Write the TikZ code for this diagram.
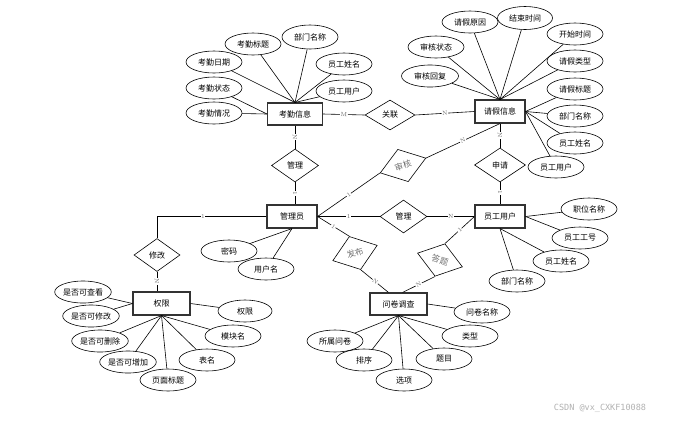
\documentclass[tikz,border=0pt]{standalone}
\usepackage{fontspec}
\newfontfamily\cjk{Noto Sans CJK SC}
\usetikzlibrary{shapes.geometric}
\begin{document}
\begin{tikzpicture}[x=1pt,y=-1pt,
  every node/.style={font=\cjk\fontsize{8}{9}\selectfont, inner sep=0pt},
  ent/.style={rectangle, draw=black!80, line width=1.1pt, minimum width=50pt, minimum height=23pt},
  attr/.style={ellipse, draw=black, line width=0.6pt, minimum width=56pt, minimum height=22pt},
  rel/.style={diamond, draw=black, line width=0.6pt, minimum width=47pt, minimum height=33pt},
  rrel/.style={rel, font=\cjk\fontsize{8.5}{9}\selectfont, text=black!55},
  conn/.style={draw=black, line width=0.6pt},
  lbl/.style={font=\fontsize{6}{6}\selectfont, text=black!60, fill=white, inner sep=0.6pt, sloped}
]
\useasboundingbox (0,0) rectangle (674,421);
\fill[white] (0,0) rectangle (674,421);

% ---------- 考勤信息 ----------
\node[ent, minimum width=55pt, minimum height=22pt] (kq) at (295,114) {考勤信息};
\node[attr] (kq1) at (253,44) {考勤标题};
\node[attr, minimum height=24pt] (kq2) at (310,37) {部门名称};
\node[attr] (kq3) at (214,62) {考勤日期};
\node[attr] (kq4) at (344,64) {员工姓名};
\node[attr] (kq5) at (214,88) {考勤状态};
\node[attr] (kq6) at (344,91) {员工用户};
\node[attr] (kq7) at (214,113) {考勤情况};
\foreach \a in {kq1,kq2,kq3,kq4,kq6} \draw[conn] (kq.north) -- (\a);
\foreach \a in {kq5,kq7} \draw[conn] (kq.west) -- (\a);

% ---------- 关联 ----------
\node[rel, minimum width=50pt, minimum height=30pt] (gl1) at (390,115) {关联};

% ---------- 请假信息 ----------
\node[ent] (qj) at (500,111.5) {请假信息};
\node[attr] (qj1) at (470,22) {请假原因};
\node[attr, minimum width=55pt, minimum height=23pt] (qj2) at (525,18) {结束时间};
\node[attr] (qj3) at (575,34) {开始时间};
\node[attr] (qj4) at (436,47) {审核状态};
\node[attr] (qj5) at (575,61) {请假类型};
\node[attr, minimum width=57pt] (qj6) at (430,76) {审核回复};
\node[attr] (qj7) at (575,89) {请假标题};
\node[attr] (qj8) at (575,116) {部门名称};
\node[attr] (qj9) at (575,143) {员工姓名};
\node[attr] (qj10) at (556,167) {员工用户};
\foreach \a in {qj1,qj2,qj3,qj4,qj5,qj6} \draw[conn] (qj.north) -- (\a);
\foreach \a in {qj7,qj8,qj9,qj10} \draw[conn] (qj.east) -- (\a);

\draw[conn] (kq.east) -- node[lbl, pos=0.5]{M} (gl1.west);
\draw[conn] (gl1.east) -- node[lbl, pos=0.5]{N} (qj.west);

% ---------- 申请 / 员工用户 ----------
\node[rel, minimum width=51pt, minimum height=34pt] (sq) at (500,165) {申请};
\node[ent] (ygy) at (500,216.5) {员工用户};
\node[attr] (yg1) at (589,209) {职位名称};
\node[attr] (yg2) at (580,238) {员工工号};
\node[attr] (yg3) at (561,261) {员工姓名};
\node[attr] (yg4) at (517,281) {部门名称};
\foreach \a in {yg1,yg2} \draw[conn] (ygy.east) -- (\a);
\foreach \a in {yg3,yg4} \draw[conn] (ygy.south) -- (\a);
\draw[conn] (qj.south) -- node[lbl, pos=0.5]{N} (sq.north);
\draw[conn] (sq.south) -- node[lbl, pos=0.45]{1} (ygy.north);

% ---------- 管理员 ----------
\node[ent] (gly) at (292,216.5) {管理员};
\node[rel] (gl2) at (295,165.5) {管理};
\node[rel] (gl3) at (403.5,216.5) {管理};
\node[attr] (gy1) at (229,251) {密码};
\node[attr] (gy2) at (266,269) {用户名};
\foreach \a in {gy1,gy2} \draw[conn] (gly.south) -- (\a);
\draw[conn] (kq.south) -- node[lbl, pos=0.5]{N} (gl2.north);
\draw[conn] (gl2.south) -- node[lbl, pos=0.5]{1} (gl2.south |- gly.north);
\draw[conn] (gly.east) -- node[lbl, pos=0.5]{1} (gl3.west);
\draw[conn] (gl3.east) -- node[lbl, pos=0.5]{N} (ygy.west);

% ---------- 审核 ----------
\node[rrel, minimum width=48pt, minimum height=34pt, rotate=18] (sh) at (403,165.5) {审核};
\draw[conn] (gly.east) -- node[lbl, pos=0.5]{1} (sh.west);
\draw[conn] (sh.east) -- node[lbl, pos=0.5]{N} (qj.south);

% ---------- 修改 / 权限 ----------
\node[rel, minimum width=46pt] (xg) at (157,255) {修改};
\node[ent, minimum width=57pt] (qx) at (161.5,303.5) {权限};
\draw[conn] (gly.west) -| node[lbl, pos=0.29]{1} (xg.north);
\draw[conn] (xg.south) -- node[lbl, pos=0.5]{N} (xg.south |- qx.north);
\node[attr] (qx1) at (83,292) {是否可查看};
\node[attr] (qx2) at (91,316) {是否可修改};
\node[attr] (qx3) at (100,341) {是否可删除};
\node[attr] (qx4) at (128,362) {是否可增加};
\node[attr] (qx5) at (168,380) {页面标题};
\node[attr] (qx6) at (207,360) {表名};
\node[attr] (qx7) at (233,336) {模块名};
\node[attr, minimum width=54pt] (qx8) at (245,311) {权限};
\foreach \a in {qx1,qx2} \draw[conn] (qx.west) -- (\a);
\foreach \a in {qx3,qx4,qx5,qx6,qx7} \draw[conn] (qx.south) -- (\a);
\draw[conn] (qx.east) -- (qx8);

% ---------- 发布 / 答题 / 问卷调查 ----------
\node[rrel, minimum width=47pt, minimum height=35pt, rotate=19] (fb) at (355,253) {发布};
\node[rrel, minimum width=47pt, minimum height=34pt, rotate=-17] (dt) at (440,260) {答题};
\node[ent, minimum width=57pt, minimum height=22pt] (wj) at (398.5,304) {问卷调查};
\draw[conn] (gly.east) -- node[lbl, pos=0.5]{1} (fb.north);
\draw[conn] (fb.south) -- node[lbl, pos=0.52]{N} ([xshift=-10pt]wj.north);
\draw[conn] (ygy.west) -- node[lbl, pos=0.5]{1} (dt.north);
\draw[conn] (dt.south) -- node[lbl, pos=0.5]{N} ([xshift=4pt]wj.north);
\node[attr] (wj1) at (482,312) {问卷名称};
\node[attr] (wj2) at (335,341) {所属问卷};
\node[attr] (wj3) at (470,336) {类型};
\node[attr] (wj4) at (364,360) {排序};
\node[attr] (wj5) at (444,359) {题目};
\node[attr] (wj6) at (404,380) {选项};
\draw[conn] (wj.east) -- (wj1);
\foreach \a in {wj2,wj3,wj4,wj5,wj6} \draw[conn] (wj.south) -- (\a);

% ---------- watermark ----------
\node[font=\fontspec{DejaVu Sans Mono}\fontsize{8.5}{9}\selectfont, text=black!30] (wm) at (600,408) {CSDN @vx\_CXKF10088};
\end{tikzpicture}
\end{document}
